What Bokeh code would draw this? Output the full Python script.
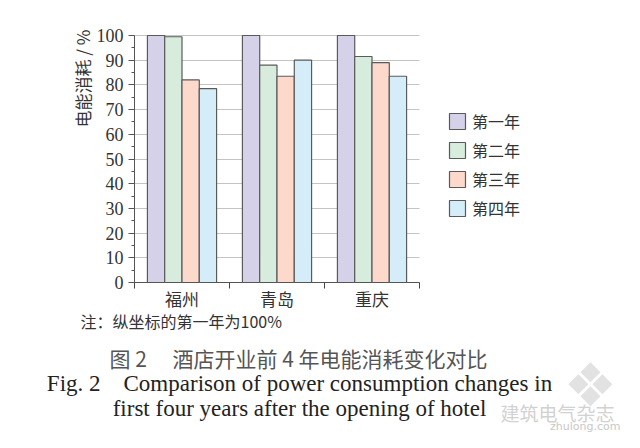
import math
from bokeh.plotting import figure
from bokeh.models import Range1d, FixedTicker, Label, Legend, LegendItem, ColumnDataSource
from bokeh.transform import dodge
from bokeh.embed import file_html
from bokeh.resources import INLINE

cities = ["福州", "青岛", "重庆"]
years = ["第一年", "第二年", "第三年", "第四年"]
year1 = [100, 100, 100]
year2 = [99.5, 88, 91.5]
year3 = [82, 83.5, 89]
year4 = [78.5, 90, 83.5]
colors = ["#d5d1e8", "#d7ecdd", "#fcd9cb", "#d5edf9"]
y_ticks = list(range(0, 101, 10))

CJK = "Noto Sans CJK SC"
SERIF = "Liberation Serif"
NB = "\u00a0"

centers = [i + 0.5 for i in range(len(cities))]
source = ColumnDataSource(dict(x=centers, y1=year1, y2=year2, y3=year3, y4=year4))

W, H = 624, 432
# layout: plot origin (x=0, y=0) at canvas pixel (134, 282); 95 px per city, 2.47 px per unit
X0, Y0, PXX, PXY = 134, 282, 95.0, 2.47
x_range = Range1d(-X0 / PXX, (W - X0) / PXX)
y_range = Range1d((Y0 - H) / PXY, Y0 / PXY)

p = figure(width=W, height=H, output_backend="svg", toolbar_location=None,
           x_range=x_range, y_range=y_range,
           min_border_left=0, min_border_right=0, min_border_top=0, min_border_bottom=0)
p.outline_line_color = None
p.background_fill_color = "white"
p.xgrid.grid_line_color = None
p.ygrid.grid_line_color = "#c4c4c4"
p.ygrid.grid_line_width = 1
p.ygrid.cross_bounds = (0, len(cities))

def lab(px, py, text, font, size, color, align="left", angle=0.0):
    p.add_layout(Label(x=px, y=H - py, x_units="screen", y_units="screen", text=text,
                       angle=angle, text_align=align, text_baseline="middle", text_font=font,
                       text_font_size=size, text_color=color))

# watermark logo (background decoration)
lab(590, 384, "❖", "DejaVu Sans", "60px", "#e2e2e2", "center")

bw = 0.182
offsets = [-1.5 * bw, -0.5 * bw, 0.5 * bw, 1.5 * bw]
renderers = []
for i, col in enumerate(["y1", "y2", "y3", "y4"]):
    r = p.vbar(x=dodge("x", offsets[i], range=p.x_range), top=col, width=bw, bottom=0,
               source=source, fill_color=colors[i], line_color="#5a5a5a", line_width=1.2)
    renderers.append(r)

# y axis
p.yaxis.fixed_location = 0
p.yaxis.ticker = FixedTicker(ticks=y_ticks, minor_ticks=[t + 5 for t in y_ticks[:-1]])
p.yaxis.bounds = (0, 100)
p.yaxis.axis_line_color = "#555555"
p.yaxis.major_tick_line_color = "#555555"
p.yaxis.minor_tick_line_color = "#555555"
p.yaxis.major_tick_in = 0
p.yaxis.major_tick_out = 6
p.yaxis.minor_tick_in = 0
p.yaxis.minor_tick_out = 3
p.yaxis.major_label_text_font = SERIF
p.yaxis.major_label_text_font_size = "18px"
p.yaxis.major_label_text_color = "#333333"
p.yaxis.major_label_standoff = 5

# x axis
p.xaxis.fixed_location = 0
p.xaxis.ticker = FixedTicker(ticks=centers, minor_ticks=list(range(len(cities) + 1)))
p.xaxis.major_label_overrides = {c: name for c, name in zip(centers, cities)}
p.xaxis.bounds = (0, len(cities))
p.xaxis.axis_line_color = "#555555"
p.xaxis.major_tick_line_color = None
p.xaxis.major_tick_in = 0
p.xaxis.major_tick_out = 0
p.xaxis.minor_tick_line_color = "#444444"
p.xaxis.minor_tick_in = 0
p.xaxis.minor_tick_out = 6
p.xaxis.major_label_text_font = CJK
p.xaxis.major_label_text_font_size = "17px"
p.xaxis.major_label_text_color = "#333333"
p.xaxis.major_label_standoff = -3

legend = Legend(items=[LegendItem(label=years[i], renderers=[renderers[i]]) for i in range(4)],
                location=(447, 212), glyph_width=20, glyph_height=20, label_height=16,
                spacing=5, padding=0, margin=0, border_line_color=None,
                background_fill_alpha=0, label_text_font=CJK, label_text_font_size="16px",
                label_text_color="#333333", label_standoff=5)
p.add_layout(legend, "center")

lab(82, 78, "电能消耗 / %", CJK, "17px", "#333333", "center", math.pi / 2)
lab(80, 320, "注：纵坐标的第一年为100%", CJK, "16px", "#333333")
lab(298, 357, "图" + NB + "2" + "\u3000" + NB + "酒店开业前" + NB + "4" + NB + "年电能消耗变化对比",
    CJK, "21px", "#555555", "center")
lab(299, 383, "Fig." + NB + "2" + NB * 4 + "Comparison of power consumption changes in",
    SERIF, "23px", "#222222", "center")
lab(299, 408, "first four years after the opening of hotel", SERIF, "23px", "#222222", "center")
lab(500, 412, "建筑电气杂志", CJK, "19px", "#d2d2d2")
lab(620, 426, "zhulong.com", "DejaVu Sans", "11px", "#c8c8c8", "right")

open("out.html", "w").write(file_html(p, INLINE))
